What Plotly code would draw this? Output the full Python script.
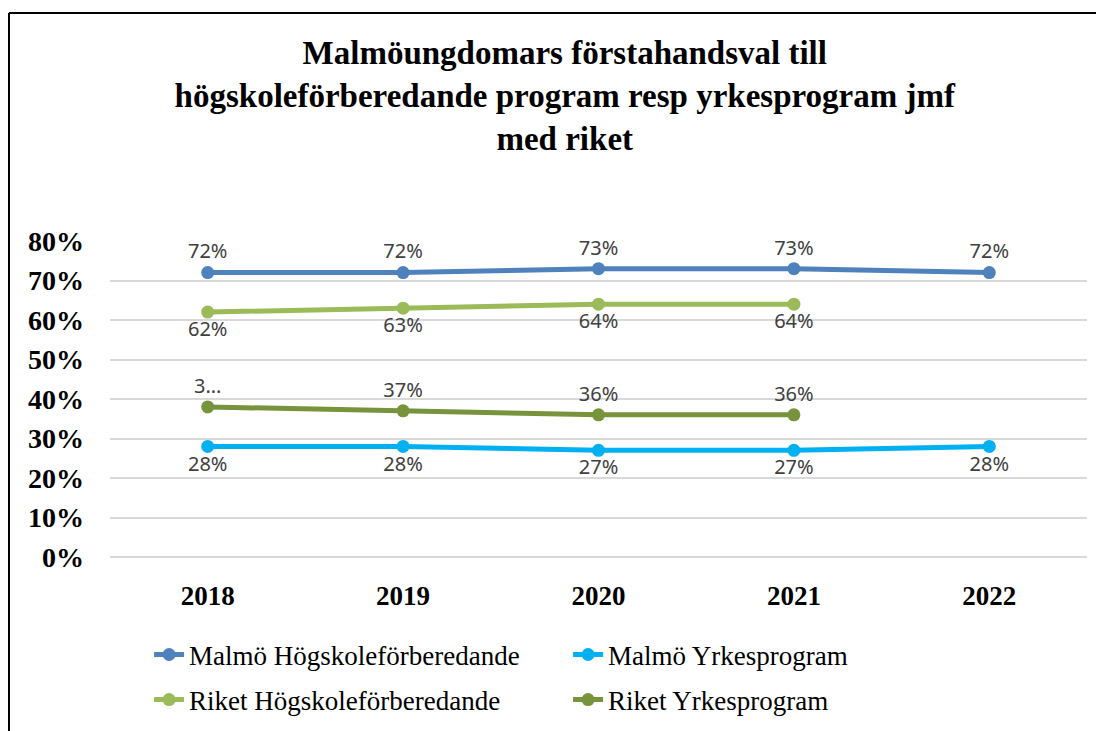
import plotly.graph_objects as go

years = ["2018", "2019", "2020", "2021", "2022"]

malmo_hogskole = [0.72, 0.72, 0.73, 0.73, 0.72]
malmo_yrkes = [0.28, 0.28, 0.27, 0.27, 0.28]
riket_hogskole = [0.62, 0.63, 0.64, 0.64]
riket_yrkes = [0.38, 0.37, 0.36, 0.36]
riket_yrkes_labels = ["3…", "37%", "36%", "36%"]

serif = "Liberation Serif"
label_font = dict(family="Noto Sans", size=20, color="#404040")

def pct(vals):
    return [f"{round(v * 100)}%" for v in vals]

fig = go.Figure()

series = [
    ("Malmö Högskoleförberedande", years, malmo_hogskole, pct(malmo_hogskole), "#4F81BD", "top center", "legend"),
    ("Malmö Yrkesprogram", years, malmo_yrkes, pct(malmo_yrkes), "#00B0F0", "bottom center", "legend"),
    ("Riket Högskoleförberedande", years[:4], riket_hogskole, pct(riket_hogskole), "#9BBB59", "bottom center", "legend2"),
    ("Riket Yrkesprogram", years[:4], riket_yrkes, riket_yrkes_labels, "#77933C", "top center", "legend2"),
]

for name, x, y, txt, col, pos, leg in series:
    fig.add_trace(go.Scatter(
        x=x, y=y, name=name, mode="lines+markers+text",
        text=txt, textposition=pos, textfont=label_font,
        line=dict(color=col, width=5),
        marker=dict(color=col, size=13),
        cliponaxis=False, legend=leg,
    ))

# chart border (top and left edge visible)
fig.add_shape(type="line", xref="paper", yref="paper",
              x0=-0.1034, x1=1.1, y0=1.7215, y1=1.7215,
              line=dict(color="black", width=2))
fig.add_shape(type="line", xref="paper", yref="paper",
              x0=-0.1034, x1=-0.1034, y0=1.7215, y1=-0.6,
              line=dict(color="black", width=2))

leg_common = dict(
    orientation="h", xanchor="left", yanchor="middle",
    entrywidth=374, entrywidthmode="pixels",
    font=dict(family=serif, size=27, color="black"),
)

fig.update_layout(
    width=1096, height=723,
    margin=dict(l=102, r=17, t=233, b=174, autoexpand=False),
    paper_bgcolor="white", plot_bgcolor="white",
    title=dict(
        text="Malmöungdomars förstahandsval till<br>högskoleförberedande program resp yrkesprogram jmf<br>med riket",
        x=0.508, xanchor="center", y=0.922, yanchor="top",
        font=dict(family=serif, size=33, color="black", weight="bold"),
    ),
    xaxis=dict(
        type="category", range=[-0.5, 4.5],
        showgrid=False, showline=False, ticks="", ticklabelstandoff=20,
        tickfont=dict(family=serif, size=27, color="black", weight="bold"),
    ),
    yaxis=dict(
        range=[0, 0.8], dtick=0.1, tickformat=".0%",
        showgrid=True, gridcolor="#D9D9D9", gridwidth=2,
        zeroline=True, zerolinecolor="#D9D9D9", zerolinewidth=2,
        showline=False, ticks="", ticklabelstandoff=25,
        tickfont=dict(family=serif, size=28, color="black", weight="bold"),
    ),
    legend=dict(x=0.040, y=-0.310, **leg_common),
    legend2=dict(x=0.040, y=-0.4525, **leg_common),
    showlegend=True,
)

fig.write_html("out.html")
